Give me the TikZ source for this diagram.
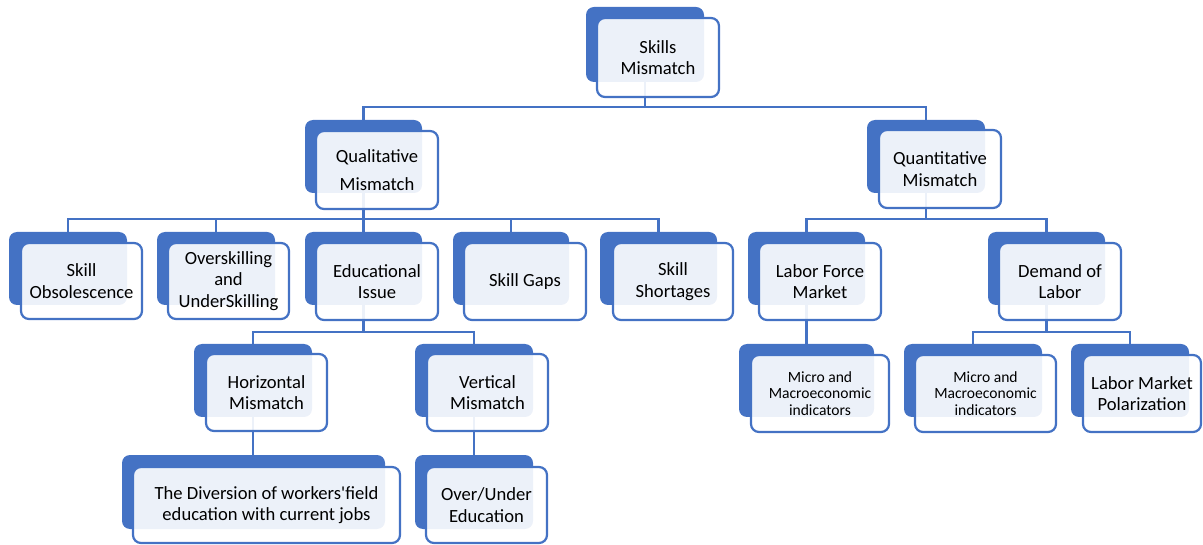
\documentclass[tikz,border=0pt]{standalone}
\usepackage{fontspec}
\setmainfont{Carlito}
\newfontfamily\plainfont{Carlito}
\usetikzlibrary{fit}
\definecolor{myblue}{HTML}{4472C4}
\pgfdeclarelayer{back}
\pgfsetlayers{back,main}
\tikzset{
  backbox/.style={fill=myblue, rounded corners=8pt, inner sep=0pt, outer sep=0pt},
  frontbox/.style={draw=myblue, line width=2.2pt, fill=white, fill opacity=0.9, rounded corners=8pt, inner sep=0pt, outer sep=0pt},
  txt/.style={align=center, inner sep=0pt, text=black},
  bigtxt/.style={txt, font=\fontsize{18.6}{21.5}\selectfont},
  smalltxt/.style={txt, font=\fontsize{15.6}{16.8}\selectfont},
  link/.style={draw=myblue, line width=2.2pt},
}
\newcommand\tbox[7][bigtxt]{%
  \begin{pgfonlayer}{back}\node[backbox, fit={(#3) (#4)}] (#2) {};\end{pgfonlayer}
  \node[frontbox, fit={(#5) (#6)}] (#2-f) {};
  \node[#1] (#2-t) at (#2-f.center) {#7};
}
\begin{document}
\begin{tikzpicture}[x=1pt,y=-1pt]
\useasboundingbox (0,0) rectangle (1203,545);
\tbox{sm}{586,7}{704,82}{597,18}{719,97}{Skills\\Mismatch}
\tbox{ql}{305,120}{422,193}{316,131}{438,209}{Qualitative\\[7pt]Mismatch}
\tbox{qn}{867,120}{985,193}{879,130}{1001,208}{Quantitative\\Mismatch}
\tbox{so}{9,232}{127,305}{21,243}{142,319}{Skill\\Obsolescence}
\tbox{ov}{157,232}{275,305}{168,243}{289,319}{Overskilling\\and\\UnderSkilling}
\tbox{ed}{305,232}{422,305}{316,243}{438,320}{Educational\\Issue}
\tbox{sg}{453,232}{569,305}{464,243}{586,320}{Skill Gaps}
\tbox{ss}{600,232}{717,305}{613,243}{733,320}{Skill\\Shortages}
\tbox{lf}{748,232}{865,305}{759,243}{881,320}{Labor Force\\Market}
\tbox{dl}{988,232}{1105,305}{999,243}{1121,320}{Demand of\\Labor}
\tbox{hm}{194,344}{312,417}{206,354}{327,431}{Horizontal\\Mismatch}
\tbox{vm}{415,344}{533,417}{427,354}{548,431}{Vertical\\Mismatch}
\tbox[smalltxt]{mia}{739,344}{874,417}{751,355}{889,432}{Micro and\\Macroeconomic\\indicators}
\tbox[smalltxt]{mib}{904,344}{1042,417}{915,355}{1056,432}{Micro and\\Macroeconomic\\indicators}
\tbox{lp}{1071,344}{1189,417}{1083,355}{1201,432}{Labor Market\\Polarization}
\tbox{dv}{122,455}{385,529}{133,467}{400,543}{The Diversion of workers{\plainfont'}field\\education with current jobs}
\tbox{ou}{415,455}{533,529}{426,467}{547,543}{Over/Under\\Education}
\coordinate (ya) at (0,107);
\coordinate (yb) at (0,219);
\coordinate (yc) at (0,332);
\begin{pgfonlayer}{back}
\draw[link] (sm.south) -- (sm.south |- ya) -| (ql.north);
\draw[link] (sm.south |- ya) -| (qn.north);
\draw[link] (ql.south) -- (ql.south |- yb) -| (so.north);
\draw[link] (ql.south |- yb) -| (ov.north);
\draw[link] (ql.south |- yb) -| (ed.north);
\draw[link] (ql.south |- yb) -| (sg.north);
\draw[link] (ql.south |- yb) -| (ss.north);
\draw[link] (qn.south) -- (qn.south |- yb) -| (lf.north);
\draw[link] (qn.south |- yb) -| (dl.north);
\draw[link] (ed.south) -- (ed.south |- yc) -| (hm.north);
\draw[link] (ed.south |- yc) -| (vm.north);
\draw[link] (dl.south) -- (dl.south |- yc) -| (mib.north);
\draw[link] (dl.south |- yc) -| (lp.north);
\draw[link] (lf.south) -- (lf.south |- mia.north);
\draw[link] (hm.south) -- (hm.south |- dv.north);
\draw[link] (vm.south) -- (vm.south |- ou.north);
\end{pgfonlayer}
\end{tikzpicture}
\end{document}
